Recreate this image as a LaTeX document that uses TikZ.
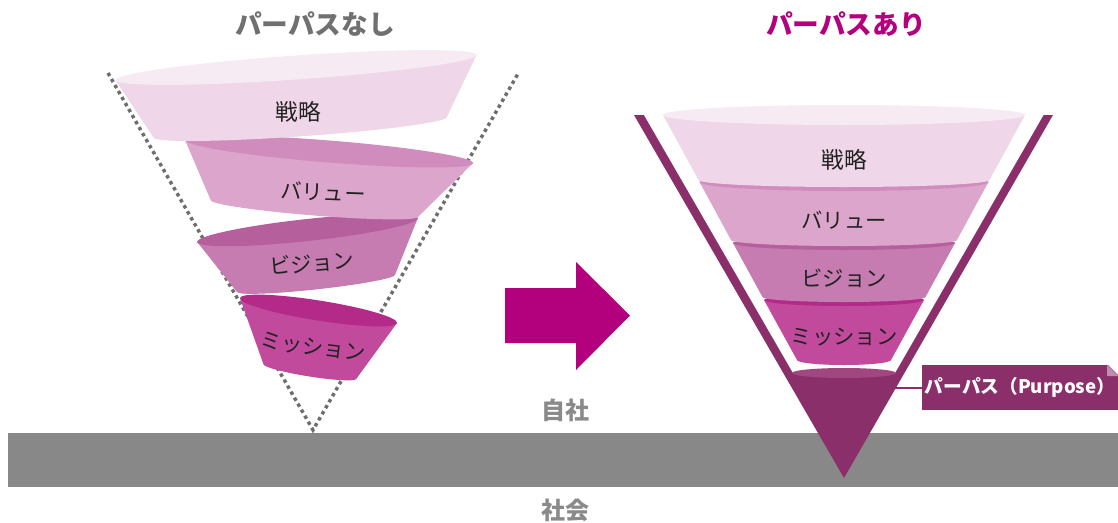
\documentclass[tikz,border=0pt]{standalone}
\usepackage{fontspec}
\setmainfont{Noto Sans CJK JP}
\begin{document}
\definecolor{tOneBody}{HTML}{EFD6E8}
\definecolor{tOneTop}{HTML}{F6EAF3}
\definecolor{tTwoBody}{HTML}{DCA6CC}
\definecolor{tTwoTop}{HTML}{D08CBC}
\definecolor{tThreeBody}{HTML}{C67CB1}
\definecolor{tThreeTop}{HTML}{B65F9D}
\definecolor{tFourBody}{HTML}{C24A9C}
\definecolor{tFourTop}{HTML}{B32A88}
\definecolor{purp}{HTML}{8B2F6B}
\definecolor{purpTop}{HTML}{A0477F}
\definecolor{magenta}{HTML}{B3007C}
\definecolor{groundgray}{HTML}{888888}
\definecolor{textgray}{HTML}{8A8A8A}
\definecolor{titlegray}{HTML}{707070}
\definecolor{dotgray}{HTML}{6E6E6E}
\definecolor{ink}{HTML}{222222}
% tilted frustum: centre x, centre y, angle, top half width, top half height,
% bottom offset, depth, bottom half width, bottom half height
\newcommand\ltier[9]{%
  \begin{scope}[shift={(#1,#2)},rotate=#3]
    \fill[tbody] (-#4,0) -- (#6-#8,#7)
      arc[start angle=180,end angle=0,x radius=#8,y radius=#9] -- (#4,0) -- cycle;
    \fill[ttop] (0,0) ellipse[x radius=#4,y radius=#5];
  \end{scope}}
% upright frustum on the axis x=844
\newcommand\rtier[6]{%
  \fill[tbody] (844-#2,#1) -- (844-#5,#4)
    arc[start angle=180,end angle=0,x radius=#5,y radius=#6] -- (844+#2,#1) -- cycle;
  \fill[ttop] (844,#1) ellipse[x radius=#2,y radius=#3];}
\begin{tikzpicture}[x=0.75pt,y=-0.75pt,
  lbl/.style={font=\fontsize{16pt}{16pt}\selectfont,text=ink,inner sep=0pt},
  kanji/.style={lbl,font=\fontsize{17pt}{17pt}\selectfont},
  title/.style={font=\fontsize{20pt}{20pt}\selectfont\bfseries,inner sep=0pt},
  ground/.style={font=\fontsize{18pt}{18pt}\selectfont\bfseries,text=textgray,inner sep=0pt},
  c1/.style={tbody/.style={fill=tOneBody},ttop/.style={fill=tOneTop}},
  c2/.style={tbody/.style={fill=tTwoBody},ttop/.style={fill=tTwoTop}},
  c3/.style={tbody/.style={fill=tThreeBody},ttop/.style={fill=tThreeTop}},
  c4/.style={tbody/.style={fill=tFourBody},ttop/.style={fill=tFourTop}},
  dots/.style={draw=dotgray,line width=2.6pt,dash pattern=on 2.6pt off 2.6pt}]
\useasboundingbox (0,0) rectangle (1118,522);

% titles
\node[title,text=titlegray] (tnone) at (315,24) {パーパスなし};
\node[title,text=magenta] (tyes) at (846,24) {パーパスあり};

% ground: company above, society below
\fill[groundgray] (8,433) rectangle (1118,487);
\node[ground] (own) at (565,410) {自社};
\node[ground] (soc) at (565,510) {社会};

% left: loose dotted funnel
\coordinate (dl) at (108,73);
\coordinate (dapex) at (313,430);
\coordinate (dr) at (519,72);
\draw[dots] (dl) -- (dapex) -- (dr);

\begin{scope}[c4]\ltier{318.5}{310.5}{-9}{79.5}{10}{1}{61.6}{47}{5}\end{scope}
\begin{scope}[c3]\ltier{307.5}{230}{6.2}{111}{11}{2.7}{54}{79.5}{6}\end{scope}
\begin{scope}[c2]\ltier{329}{151.5}{-4.6}{144.5}{11}{-10}{58}{104}{7}\end{scope}
\begin{scope}[c1]\ltier{296}{67.5}{4}{181}{12}{0}{60}{147}{9}\end{scope}

\node[kanji] (s1) at (298,112) {戦略};
\node[lbl,rotate=-2] (s2) at (323,192) {バリュー};
\node[lbl,rotate=5] (s3) at (312,263) {ビジョン};
\node[lbl,rotate=-7] (s4) at (313,347) {ミッション};

% arrow
\fill[magenta] (505,288) -- (576,288) -- (576,262) -- (630,315.5)
  -- (576,370) -- (576,343) -- (505,343) -- cycle;

% right: funnel resting on the purpose
\fill[purp] (634,115) -- (1053,115) -- (844,478) -- cycle;
\fill[white] (644,115) -- (793,373) -- (895,373) -- (1043.5,115) -- cycle;
\fill[purpTop] (844,373) ellipse[x radius=52,y radius=5];

\begin{scope}[c4]\rtier{300}{80}{6}{360}{47}{5}\end{scope}
\begin{scope}[c3]\rtier{243}{111}{7}{297}{81.5}{5}\end{scope}
\begin{scope}[c2]\rtier{182}{144.5}{9}{240}{113}{6}\end{scope}
\begin{scope}[c1]\rtier{115}{181}{10}{180}{145.5}{7}\end{scope}

\node[kanji] (r1) at (844,160) {戦略};
\node[lbl] (r2) at (844,220) {バリュー};
\node[lbl] (r3) at (844,278) {ビジョン};
\node[lbl] (r4) at (844,337) {ミッション};

% purpose label with folded corner
\node[fill=purp,minimum width=147pt,minimum height=33.75pt,inner sep=0pt,
  text=white,font=\fontsize{14pt}{14pt}\selectfont\bfseries]
  (plabel) at (1020,387.5) {パーパス（Purpose）};
\fill[white] (1107,364) -- (1119,364) -- (1119,376) -- cycle;
\fill[purp!55!white] (1107,365) -- (1118,376) -- (1107,376) -- cycle;
\coordinate (pedge) at (894,388);
\draw[purp,line width=2.2pt] (pedge) -- (plabel.west |- pedge);
\end{tikzpicture}
\end{document}
